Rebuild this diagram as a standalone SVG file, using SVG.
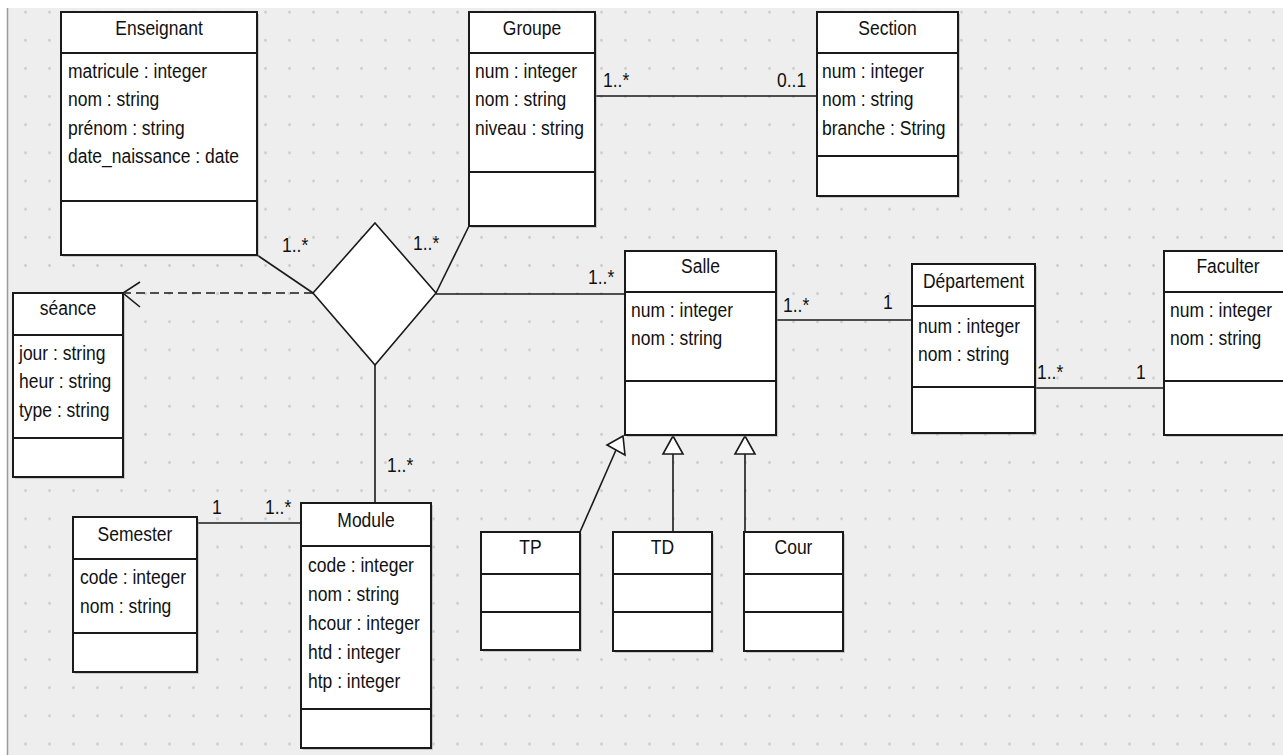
<svg xmlns="http://www.w3.org/2000/svg" width="1283" height="755" viewBox="0 0 1283 755">
  <style>
    text { font-family: "Liberation Sans", Arial, sans-serif; font-size: 17.5px; fill: #111;
           transform-box: fill-box; transform-origin: 50% 81%; transform: scaleY(1.15); }
    .title { text-anchor: middle; }
    .box { fill: #ffffff; stroke: #1a1a1a; stroke-width: 2; }
    .shadow { fill: #9a9a9a; opacity: 0.45; }
    .div { stroke: #1a1a1a; stroke-width: 2; }
    .conn { stroke: #1a1a1a; stroke-width: 1.6; fill: none; }
    .dash { stroke-dasharray: 9 5; }
    .tri { fill: #ffffff; stroke: #1a1a1a; stroke-width: 1.6; }
  </style>
  <defs>
    <pattern id="grid" x="12" y="0" width="24" height="28.15" patternUnits="userSpaceOnUse">
      <rect x="12.3" y="10.9" width="2.4" height="2.4" fill="#c8c8c8"/>
    </pattern>
  </defs>

  <!-- canvas -->
  <rect x="0" y="0" width="1283" height="755" fill="#ffffff"/>
  <rect x="8" y="8" width="1275" height="747" fill="#eeeeee"/>
  <rect x="8" y="8" width="1275" height="747" fill="url(#grid)"/>
  <line x1="7.5" y1="8" x2="7.5" y2="755" stroke="#9c9c9c" stroke-width="1.5"/>

  <!-- connectors -->
  <g id="connectors">
    <line class="conn" x1="257" y1="255" x2="313" y2="293"/>
    <line class="conn" x1="469" y1="226" x2="436" y2="293"/>
    <line class="conn" x1="436" y1="294" x2="625" y2="294"/>
    <line class="conn" x1="375" y1="365" x2="375" y2="503"/>
    <line class="conn dash" x1="313" y1="293" x2="125" y2="293"/>
    <polyline class="conn" points="140,282 123,293 140,307"/>
    <line class="conn" x1="595" y1="96" x2="817" y2="96"/>
    <line class="conn" x1="776" y1="320" x2="912" y2="320"/>
    <line class="conn" x1="1035" y1="388" x2="1164" y2="388"/>
    <line class="conn" x1="197" y1="523" x2="301" y2="523"/>
    <!-- generalizations to Salle -->
    <line class="conn" x1="580" y1="532" x2="616" y2="450"/>
    <polygon class="tri" points="623,436 607,445 625,455"/>
    <line class="conn" x1="673" y1="532" x2="673" y2="454"/>
    <polygon class="tri" points="673,436 663,454 683,454"/>
    <line class="conn" x1="745" y1="532" x2="745" y2="454"/>
    <polygon class="tri" points="745,436 735,454 755,454"/>
    <!-- multiplicities -->
    <text x="282" y="252">1..*</text>
    <text x="413" y="250">1..*</text>
    <text x="588" y="284">1..*</text>
    <text x="603" y="87">1..*</text>
    <text x="777" y="87">0..1</text>
    <text x="783" y="312">1..*</text>
    <text x="883" y="309">1</text>
    <text x="1037" y="379">1..*</text>
    <text x="1136" y="379">1</text>
    <text x="387" y="472">1..*</text>
    <text x="212" y="514">1</text>
    <text x="265" y="514">1..*</text>
  </g>

  <!-- association diamond -->
  <g id="association">
    <polygon points="375,223 436,293 375,365 313,293" fill="#ffffff" stroke="#1a1a1a" stroke-width="1.6"/>
  </g>

  <g id="enseignant">
    <rect class="shadow" x="63" y="14" width="196" height="243"/>
    <rect class="box" x="61" y="12" width="196" height="243"/>
    <line class="div" x1="61" y1="53" x2="257" y2="53"/>
    <line class="div" x1="61" y1="201" x2="257" y2="201"/>
    <text class="title" x="159" y="35">Enseignant</text>
    <text x="68" y="78">matricule : integer</text>
    <text x="68" y="106.5">nom : string</text>
    <text x="68" y="135">prénom : string</text>
    <text x="68" y="163.5">date_naissance : date</text>
  </g>

  <g id="groupe">
    <rect class="shadow" x="471" y="14" width="126" height="214"/>
    <rect class="box" x="469" y="12" width="126" height="214"/>
    <line class="div" x1="469" y1="53" x2="595" y2="53"/>
    <line class="div" x1="469" y1="172" x2="595" y2="172"/>
    <text class="title" x="532" y="35">Groupe</text>
    <text x="475" y="78">num : integer</text>
    <text x="475" y="106.5">nom : string</text>
    <text x="475" y="135">niveau : string</text>
  </g>

  <g id="section">
    <rect class="shadow" x="819" y="14" width="141" height="184"/>
    <rect class="box" x="817" y="12" width="141" height="184"/>
    <line class="div" x1="817" y1="53" x2="958" y2="53"/>
    <line class="div" x1="817" y1="156" x2="958" y2="156"/>
    <text class="title" x="887.5" y="35">Section</text>
    <text x="822" y="78">num : integer</text>
    <text x="822" y="106.5">nom : string</text>
    <text x="822" y="135">branche : String</text>
  </g>

  <g id="seance">
    <rect class="shadow" x="15" y="295" width="110" height="184"/>
    <rect class="box" x="13" y="293" width="110" height="184"/>
    <line class="div" x1="13" y1="335" x2="123" y2="335"/>
    <line class="div" x1="13" y1="438" x2="123" y2="438"/>
    <text class="title" x="68" y="315">séance</text>
    <text x="19" y="360">jour : string</text>
    <text x="19" y="388.5">heur : string</text>
    <text x="19" y="417">type : string</text>
  </g>

  <g id="salle">
    <rect class="shadow" x="627" y="253" width="151" height="184"/>
    <rect class="box" x="625" y="251" width="151" height="184"/>
    <line class="div" x1="625" y1="292" x2="776" y2="292"/>
    <line class="div" x1="625" y1="381" x2="776" y2="381"/>
    <text class="title" x="700.5" y="273">Salle</text>
    <text x="631" y="317">num : integer</text>
    <text x="631" y="345.5">nom : string</text>
  </g>

  <g id="departement">
    <rect class="shadow" x="914" y="266" width="123" height="169"/>
    <rect class="box" x="912" y="264" width="123" height="169"/>
    <line class="div" x1="912" y1="306" x2="1035" y2="306"/>
    <line class="div" x1="912" y1="387" x2="1035" y2="387"/>
    <text class="title" x="973.5" y="288">Département</text>
    <text x="918" y="333">num : integer</text>
    <text x="918" y="361">nom : string</text>
  </g>

  <g id="faculter">
    <rect class="shadow" x="1166" y="253" width="130" height="184"/>
    <rect class="box" x="1164" y="251" width="130" height="184"/>
    <line class="div" x1="1164" y1="292" x2="1294" y2="292"/>
    <line class="div" x1="1164" y1="381" x2="1294" y2="381"/>
    <text class="title" x="1228" y="273">Faculter</text>
    <text x="1170" y="317">num : integer</text>
    <text x="1170" y="345.5">nom : string</text>
  </g>

  <g id="semester">
    <rect class="shadow" x="75" y="519" width="124" height="155"/>
    <rect class="box" x="73" y="517" width="124" height="155"/>
    <line class="div" x1="73" y1="559" x2="197" y2="559"/>
    <line class="div" x1="73" y1="633" x2="197" y2="633"/>
    <text class="title" x="135" y="541">Semester</text>
    <text x="80" y="584">code : integer</text>
    <text x="80" y="613">nom : string</text>
  </g>

  <g id="module">
    <rect class="shadow" x="303" y="505" width="130" height="245"/>
    <rect class="box" x="301" y="503" width="130" height="245"/>
    <line class="div" x1="301" y1="546" x2="431" y2="546"/>
    <line class="div" x1="301" y1="709" x2="431" y2="709"/>
    <text class="title" x="366" y="527">Module</text>
    <text x="308" y="572">code : integer</text>
    <text x="308" y="601">nom : string</text>
    <text x="308" y="630">hcour : integer</text>
    <text x="308" y="659">htd : integer</text>
    <text x="308" y="688">htp : integer</text>
  </g>

  <g id="tp">
    <rect class="shadow" x="483" y="534" width="99" height="118"/>
    <rect class="box" x="481" y="532" width="99" height="118"/>
    <line class="div" x1="481" y1="574" x2="580" y2="574"/>
    <line class="div" x1="481" y1="612" x2="580" y2="612"/>
    <text class="title" x="530.5" y="554">TP</text>
  </g>

  <g id="td">
    <rect class="shadow" x="615" y="534" width="99" height="119"/>
    <rect class="box" x="613" y="532" width="99" height="119"/>
    <line class="div" x1="613" y1="574" x2="712" y2="574"/>
    <line class="div" x1="613" y1="612" x2="712" y2="612"/>
    <text class="title" x="662.5" y="554">TD</text>
  </g>

  <g id="cour">
    <rect class="shadow" x="746" y="534" width="99" height="119"/>
    <rect class="box" x="744" y="532" width="99" height="119"/>
    <line class="div" x1="744" y1="574" x2="843" y2="574"/>
    <line class="div" x1="744" y1="612" x2="843" y2="612"/>
    <text class="title" x="793.5" y="554">Cour</text>
  </g>
</svg>
